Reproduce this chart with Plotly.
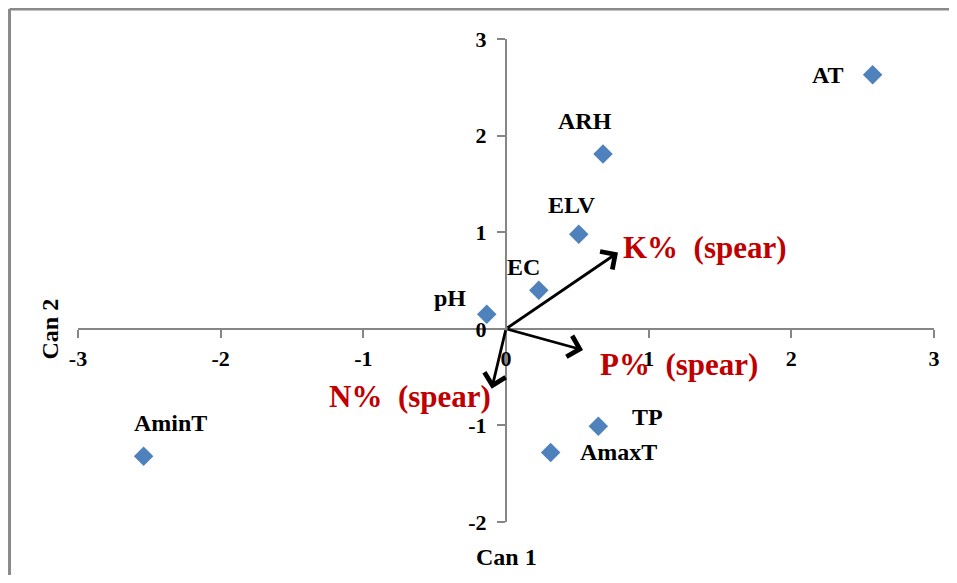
import plotly.graph_objects as go

# ---- data ----
var_names = ["AT", "ARH", "ELV", "EC", "pH", "TP", "AmaxT", "AminT"]
can1 = [2.57, 0.68, 0.51, 0.23, -0.135, 0.647, 0.313, -2.54]
can2 = [2.63, 1.81, 0.98, 0.40, 0.15, -1.01, -1.28, -1.32]

vec_names = ["K%\u00a0\u00a0(spear)", "P%\u00a0\u00a0(spear)", "N%\u00a0\u00a0(spear)"]
vec_x = [0.785, 0.54, -0.10]
vec_y = [0.79, -0.22, -0.62]

x_range = [-3, 3]
y_range = [-2, 3]
x_ticks = [-3, -2, -1, 0, 1, 2, 3]
y_ticks = [-2, -1, 0, 1, 2, 3]

# ---- styles ----
FONT = "Liberation Serif, Times New Roman, serif"
AXIS_COLOR = "#868686"
MARKER_COLOR = "#4F81BD"
RED = "#C00000"

# label offsets in pixels (dx, dy), style only
label_offsets = {
    "AT": (-45, 0), "ARH": (-18, 33), "ELV": (-7, 29), "EC": (-15, 23),
    "pH": (-37, 16), "TP": (49, 9), "AmaxT": (68, 0), "AminT": (27, 33),
}
vec_label_style = [
    dict(xanchor="left", xshift=3, yshift=5),
    dict(xanchor="left", xshift=15, yshift=-14),
    dict(xanchor="right", xshift=1, yshift=-8),
]

fig = go.Figure()
fig.add_trace(go.Scatter(
    x=can1, y=can2, mode="markers",
    marker=dict(symbol="diamond", size=15, color=MARKER_COLOR),
    showlegend=False, hoverinfo="skip",
))

annotations = []
for name, xv, yv in zip(var_names, can1, can2):
    dx, dy = label_offsets[name]
    annotations.append(dict(
        x=xv, y=yv, xref="x", yref="y", text=f"<b>{name}</b>", showarrow=False,
        xshift=dx, yshift=dy, xanchor="center", yanchor="middle",
        font=dict(family=FONT, size=24, color="black"),
    ))

for name, xv, yv, st in zip(vec_names, vec_x, vec_y, vec_label_style):
    annotations.append(dict(
        x=xv, y=yv, xref="x", yref="y", ax=0, ay=0, axref="x", ayref="y",
        text="", showarrow=True, arrowhead=4, arrowsize=1.5, arrowwidth=2.8,
        arrowcolor="black", standoff=0, startstandoff=0,
    ))
    annotations.append(dict(
        x=xv, y=yv, xref="x", yref="y", text=f"<b>{name}</b>", showarrow=False,
        yanchor="middle", font=dict(family=FONT, size=31, color=RED), **st,
    ))

annotations.append(dict(
    x=0.5, y=-0.072, xref="paper", yref="paper", text="<b>Can 1</b>", showarrow=False,
    xanchor="center", yanchor="middle", font=dict(family=FONT, size=24, color="black"),
))
annotations.append(dict(
    x=-0.033, y=0.40, xref="paper", yref="paper", text="<b>Can 2</b>", showarrow=False,
    textangle=-90, xanchor="center", yanchor="middle",
    font=dict(family=FONT, size=24, color="black"),
))

x_zero_pos = (0 - y_range[0]) / (y_range[1] - y_range[0])
y_zero_pos = (0 - x_range[0]) / (x_range[1] - x_range[0])

border = dict(color="#8a8a8a", width=3)
fig.update_layout(
    width=944, height=567,
    margin=dict(l=70, r=18, t=31, b=53),
    paper_bgcolor="white", plot_bgcolor="white",
    font=dict(family=FONT, color="black"),
    xaxis=dict(
        range=x_range, tickvals=x_ticks, ticktext=[f"<b>{t}</b>" for t in x_ticks],
        showgrid=False, zeroline=False, showline=True, linecolor=AXIS_COLOR, linewidth=2,
        ticks="outside", ticklen=8, tickcolor=AXIS_COLOR, tickwidth=2,
        anchor="free", position=x_zero_pos, ticklabelstandoff=2,
        tickfont=dict(family=FONT, size=22, color="black"),
    ),
    yaxis=dict(
        range=y_range, tickvals=y_ticks, ticktext=[f"<b>{t}</b>" for t in y_ticks],
        showgrid=False, zeroline=False, showline=True, linecolor=AXIS_COLOR, linewidth=2,
        ticks="outside", ticklen=8, tickcolor=AXIS_COLOR, tickwidth=2,
        anchor="free", position=y_zero_pos, ticklabelstandoff=6,
        tickfont=dict(family=FONT, size=22, color="black"),
    ),
    annotations=annotations,
    shapes=[
        dict(type="line", xref="paper", yref="paper", x0=-0.080, x1=1.3,
             y0=1.062, y1=1.062, line=border, layer="below"),
        dict(type="line", xref="paper", yref="paper", x0=-0.080, x1=-0.080,
             y0=-0.4, y1=1.062, line=border, layer="below"),
    ],
)

fig.write_html("out.html")
